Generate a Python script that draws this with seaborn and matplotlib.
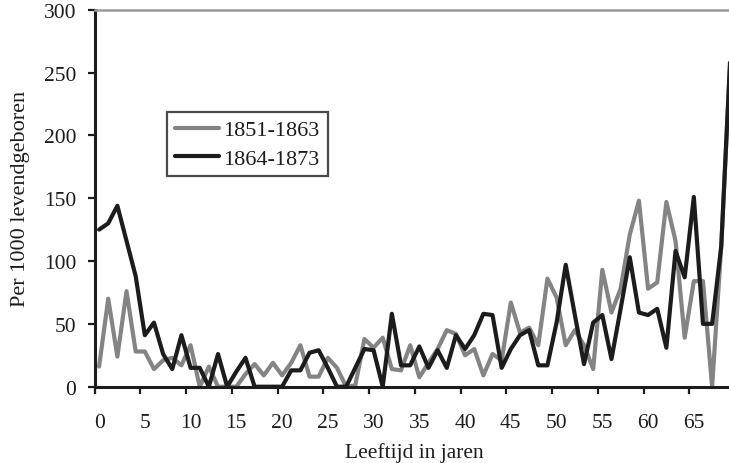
import numpy as np
import pandas as pd
import matplotlib
matplotlib.use("Agg")
import matplotlib.pyplot as plt
import seaborn as sns
from matplotlib.lines import Line2D

# ---- data ----
ages = list(range(70))
series_names = ["1851-1863", "1864-1873"]
vals_1851_1863 = [16, 70, 24, 76, 28, 28, 14, 21, 23, 17,
                  33, 0, 16, 0, 0, 0, 10, 18, 9, 19,
                  9, 19, 33, 8, 8, 23, 15, 0, 1, 38,
                  31, 39, 14, 13, 33, 7.5, 19, 30, 45, 42,
                  25, 30, 9, 26, 21, 67, 43, 47, 33, 86,
                  71, 33, 45, 33, 14, 93, 59, 78, 121, 148,
                  78, 83, 147, 116, 39, 84, 84, 0, 112, 262]
vals_1864_1873 = [125, 130, 144, 116, 88, 41, 51, 26, 14, 41,
                  15, 15, 0, 26, 0, 12, 23, 0, 0, 0,
                  0, 13, 13, 27, 29, 15, 0, 0, 15, 30,
                  29, 0, 58, 17, 17, 32, 15, 29, 15, 41,
                  30, 41, 58, 57, 15, 30, 41, 45, 17, 17,
                  51, 97, 57, 18, 51, 57, 22, 62, 103, 59,
                  57, 62, 31, 108, 87, 151, 50, 50, 112, 265]
x_tick_labels = ["0", "5", "10", "15", "20", "25", "30", "35", "40", "45", "50", "55", "60", "65"]
y_ticks = [0, 50, 100, 150, 200, 250, 300]

df = pd.DataFrame({
    "Leeftijd": ages * 2,
    "waarde": vals_1851_1863 + vals_1864_1873,
    "periode": [series_names[0]] * len(ages) + [series_names[1]] * len(ages),
})

sns.set_style("white")
plt.rcParams["font.family"] = ["Liberation Serif", "DejaVu Serif"]

fig = plt.figure(figsize=(7.29, 4.64), dpi=100)
ax = fig.add_axes([94.5 / 729, (464 - 387.7) / 464, (735 - 94.5) / 729, 377 / 464])

colors = {series_names[0]: "#848484", series_names[1]: "#1c1c1c"}
sns.lineplot(data=df, x="Leeftijd", y="waarde", hue="periode", hue_order=series_names,
             palette=colors, linewidth=3.0, ax=ax, legend=False, estimator=None)

ax.set_xlim(-0.5, 69.5)
ax.set_ylim(0, 300)

# x: tick marks between categories, labels on categories
major_pos = [int(l) - 0.5 for l in x_tick_labels]
ax.set_xticks(major_pos)
ax.set_xticklabels([""] * len(major_pos))
ax.set_xticks([int(l) for l in x_tick_labels], minor=True)
ax.set_xticklabels(x_tick_labels, minor=True)
ax.tick_params(axis="x", which="major", direction="out", length=5, width=1.6, color="#1c1c1c", bottom=True)
ax.tick_params(axis="x", which="minor", length=0, pad=19, labelsize=15.5, colors="#1c1c1c")

ax.set_yticks(y_ticks)
ax.set_yticklabels([str(v) for v in y_ticks])
ax.tick_params(axis="y", direction="out", length=5, width=1.6, color="#1c1c1c", left=True,
               pad=8, labelsize=15.5, labelcolor="#1c1c1c")

for s in ["left", "bottom"]:
    ax.spines[s].set_color("#1c1c1c")
    ax.spines[s].set_linewidth(2.2)
ax.spines["right"].set_visible(False)
ax.spines["top"].set_color("#9a9a9a")
ax.spines["top"].set_linewidth(1.8)

ax.set_xlabel("Leeftijd in jaren", fontsize=15.5, color="#1c1c1c", labelpad=7)
ax.set_ylabel("Per 1000 levendgeboren", fontsize=16, color="#1c1c1c", labelpad=10)

handles = [Line2D([0], [0], color=colors[n], lw=3.0) for n in series_names]
leg = ax.legend(handles, series_names, loc="upper left", bbox_to_anchor=(0.113, 0.7287),
                borderaxespad=0, frameon=True, fancybox=False, fontsize=16,
                handlelength=2.0, handletextpad=0.2, labelspacing=0.35,
                borderpad=0.35)
leg.get_frame().set_edgecolor("#1c1c1c")
leg.get_frame().set_linewidth(1.6)
leg.get_frame().set_facecolor("white")
for t in leg.get_texts():
    t.set_color("#1c1c1c")

fig.savefig("out.png", dpi=100)
